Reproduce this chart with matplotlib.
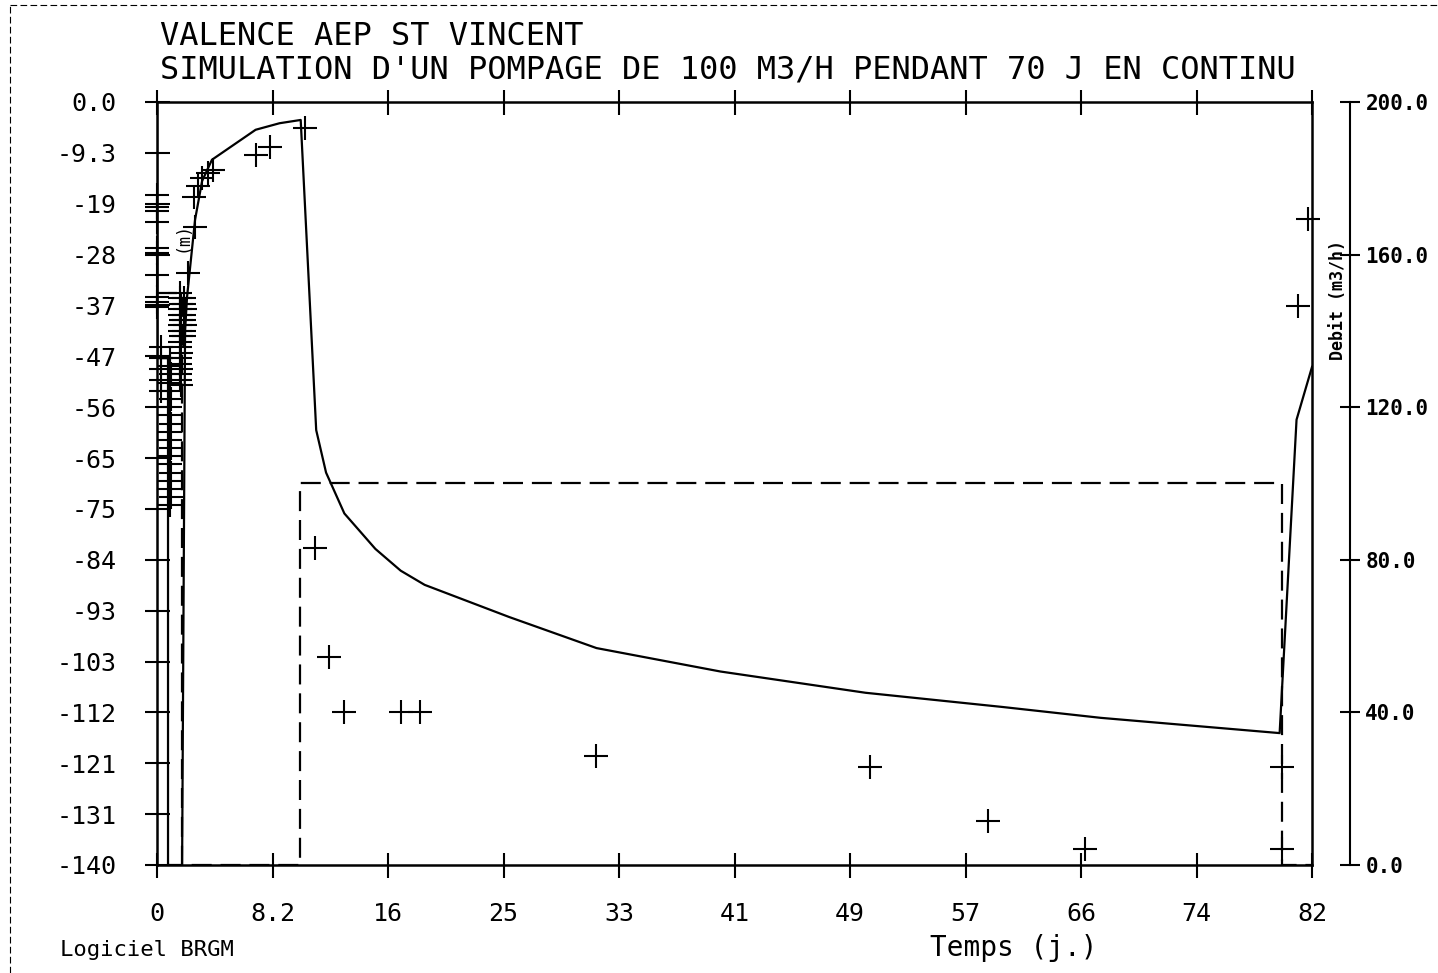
import matplotlib
matplotlib.use("Agg")
import matplotlib.pyplot as plt
from matplotlib.lines import Line2D

# axes ticks
x_ticks = [0, 8.2, 16.4, 24.6, 32.8, 41, 49.2, 57.4, 65.6, 73.8, 82]
x_labels = ['0', '8.2', '16', '25', '33', '41', '49', '57', '66', '74', '82']
y_ticks = [0, -9.33, -18.67, -28, -37.33, -46.67, -56, -65.33, -74.67, -84,
           -93.33, -102.67, -112, -121.33, -130.67, -140]
y_labels = ['0.0', '-9.3', '-19', '-28', '-37', '-47', '-56', '-65', '-75', '-84',
            '-93', '-103', '-112', '-121', '-131', '-140']
q_ticks = [0, 40, 80, 120, 160, 200]

# simulated drawdown (solid line)
sim_t = [0, 0.02, 0.75, 0.78, 0.78, 1.78, 1.99, 2.13, 2.7, 3.2, 3.9, 7.0, 8.7, 10.2,
         11.3, 12.0, 13.3, 15.5, 17.3, 19.0, 25.0, 31.2, 40.0, 50.3, 60.0, 67.0,
         79.7, 80.9, 82.0]
sim_s = [0, -47, -47, -47, -140, -140, -42, -35.8, -21.6, -14.5, -10.6, -5.1, -3.9, -3.3,
         -60.2, -68, -75.5, -82, -86, -88.6, -94.5, -100.2, -104.5, -108.4, -111, -113,
         -115.8, -58.3, -48.6]

# observed drawdown (crosses)
obs_t = [0.0, 0.0, 0.0, 0.0, 0.0, 0.0, 0.0, 0.0, 0.0, 0.0,
         0.9, 0.95, 1.0, 0.9, 0.95, 1.0, 0.9, 0.95, 1.0, 0.9,
         0.95, 1.0, 0.9, 0.95, 1.0, 0.9, 0.95, 1.0, 0.9,
         1.6, 1.65, 1.7, 1.6, 1.65, 1.7, 1.6, 1.65, 1.7, 1.6,
         1.65, 1.7, 1.6, 1.65, 1.7, 1.6, 1.65, 1.7,
         1.9, 1.95, 2.0, 1.9, 1.95, 2.0, 1.9, 1.95,
         0.3, 0.3, 0.3, 0.3, 0.3,
         2.2, 2.7, 2.6, 2.9, 3.2, 3.6, 4.0,
         7.0, 8.0, 10.5, 11.2, 12.2, 13.3, 17.3, 18.7, 31.2, 50.6, 59.0, 65.9,
         79.9, 79.9, 81.0, 81.7]
obs_s = [-17, -19.3, -20, -22, -26.8, -27.7, -31.7, -35.8, -36.7, -37.6,
         -47, -48.5, -50, -51.5, -53, -54.5, -56, -57.5, -59, -60.5,
         -62, -63.5, -65, -66.5, -68, -69.5, -71, -72.5, -74,
         -35, -36, -37, -38, -39, -40, -41, -42, -43, -44,
         -45, -46, -47, -48, -49, -50, -51, -52,
         -36, -37, -38, -39, -40, -41, -42, -43,
         -45, -47, -49, -51, -53,
         -31.4, -23, -17.5, -15.5, -14, -13, -12.5,
         -9.7, -8.3, -4.8, -81.8, -101.8, -112, -112, -112, -120, -122, -132, -137,
         -137, -122, -37.5, -21.5]

# pumping rate (dashed line)
q_t = [0, 1.78, 1.78, 10.15, 10.15, 79.87, 79.87, 82]
q_v = [150, 150, 0, 0, 100, 100, 0, 0]

mono = 'DejaVu Sans Mono'
plt.rcParams['font.family'] = mono

fig = plt.figure(figsize=(14.38, 9.73), dpi=100)
ax = fig.add_axes([0.1092, 0.111, 0.8032, 0.7842])
ax.set_xlim(0, 82)
ax.set_ylim(-140, 0)

ax.plot(sim_t, sim_s, color='black', lw=1.6)
ax.plot(obs_t, obs_s, '+', color='black', ms=17, mew=1.5, clip_on=False)

ax.set_xticks(x_ticks)
ax.set_xticklabels(x_labels, fontsize=18)
ax.set_yticks(y_ticks)
ax.set_yticklabels(y_labels, fontsize=18)
ax.tick_params(axis='both', direction='inout', length=18, width=1.5,
               top=True, right=True, labeltop=False, labelright=False)
ax.tick_params(axis='y', pad=20)
ax.tick_params(axis='x', pad=18)
for s in ax.spines.values():
    s.set_linewidth(1.8)

ax.text(1.78, -24.8, '(m)', rotation=90, fontsize=12, ha='center', va='center')

ax2 = ax.twinx()
ax2.set_ylim(0, 200)
ax2.plot(q_t, q_v, color='black', lw=1.6, dashes=(9, 4))
ax2.spines['right'].set_position(('axes', 1.033))
ax2.spines['right'].set_linewidth(1.5)
for k in ['top', 'bottom', 'left']:
    ax2.spines[k].set_visible(False)
ax2.set_yticks(q_ticks)
ax2.set_yticklabels(['%.1f' % v for v in q_ticks], fontsize=15, fontweight='bold')
ax2.tick_params(axis='y', direction='inout', length=14, width=1.5, pad=4)

fig.text(0.9305, 0.692, 'Debit (m3/h)', rotation=90, fontsize=12, fontweight='bold',
         ha='center', va='center')

fig.text(0.111, 0.962, 'VALENCE AEP ST VINCENT', fontsize=23, va='center')
fig.text(0.111, 0.928, "SIMULATION D'UN POMPAGE DE 100 M3/H PENDANT 70 J EN CONTINU",
         fontsize=23, va='center')
fig.text(0.042, 0.024, 'Logiciel BRGM', fontsize=16, va='center')
fig.text(0.705, 0.026, 'Temps (j.)', fontsize=20, ha='center', va='center')

# scanned page border
fig.add_artist(Line2D([0.007, 0.007], [0.0, 0.995], color='black', lw=0.8,
                      dashes=(6, 3), transform=fig.transFigure))
fig.add_artist(Line2D([0.007, 1.0], [0.995, 0.995], color='black', lw=0.8,
                      dashes=(6, 3), transform=fig.transFigure))

fig.savefig('out.png', dpi=100)
